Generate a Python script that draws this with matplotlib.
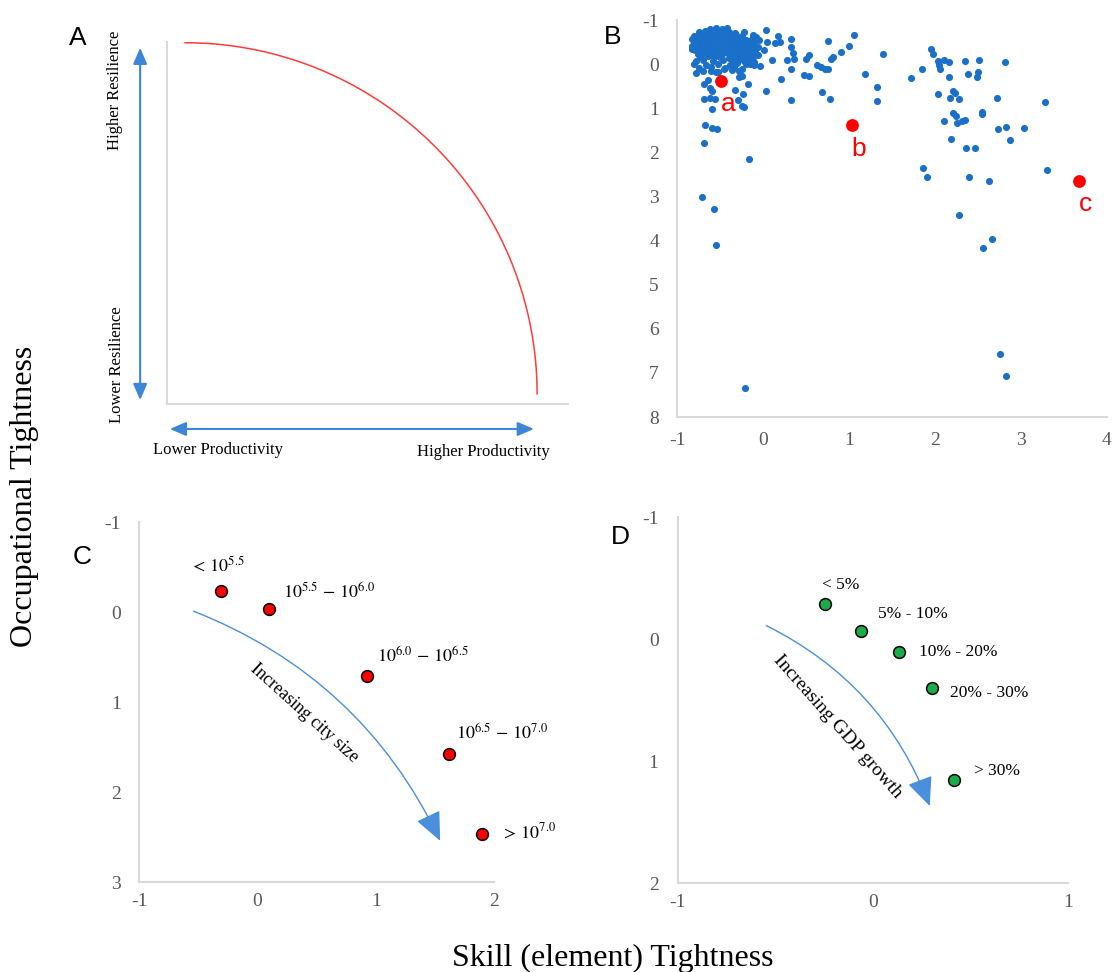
import matplotlib.pyplot as plt
import numpy as np
from matplotlib.patches import FancyArrowPatch

plt.rcParams['mathtext.fontset'] = 'stix'
plt.rcParams['axes.unicode_minus'] = False

SERIF = 'Liberation Serif'
SANS = 'Liberation Sans'
GRAY = '#595959'
SPINE = '#d9d9d9'
BLUE = '#1a6fc9'

# ---- panel B data (skill tightness, occupational tightness) ----
b_sparse = [
    (-0.21, 7.35), (2.75, 6.57), (2.83, 7.08), (2.56, 4.18), (2.66, 3.97),
    (2.28, 3.42), (2.40, 2.55), (2.63, 2.66), (1.86, 2.35), (1.91, 2.57),
    (3.30, 2.39), (3.28, 0.86), (3.04, 1.44), (2.87, 1.71), (2.83, 1.42),
    (2.73, 1.46), (2.72, 0.76), (2.81, -0.05), (2.51, -0.10), (2.35, -0.06),
    (2.50, 0.17), (2.49, 0.29), (2.38, 0.23), (2.55, 1.09), (2.55, 1.14),
    (2.47, 1.90), (2.36, 1.90), (2.19, 1.70), (2.10, 1.28), (2.21, 1.10),
    (2.24, 1.18), (2.26, 1.34), (2.31, 1.28), (2.35, 1.27), (2.28, 0.78),
    (2.21, 0.60), (2.23, 0.66), (2.17, 0.76), (2.03, 0.68), (2.16, 0.29),
    (2.16, -0.04), (2.10, -0.09), (2.03, -0.07), (2.05, 0.01), (2.06, 0.10),
    (1.98, -0.23), (1.95, -0.34), (1.85, 0.12), (1.72, 0.31), (1.39, -0.24),
    (1.32, 0.53), (1.32, 0.83), (1.19, 0.23), (1.06, -0.65), (1.00, -0.41),
    (0.91, -0.28), (0.81, -0.16), (0.79, -0.12), (0.76, -0.52), (0.75, 0.11),
    (0.72, 0.10), (0.67, 0.06), (0.63, 0.01), (0.69, 0.63), (0.78, 0.79),
    (0.53, 0.26), (0.48, 0.24), (0.53, -0.20), (0.50, -0.11), (0.36, -0.11),
    (0.35, -0.26), (0.33, -0.39), (0.33, -0.57), (0.32, 0.12), (0.28, -0.09),
    (0.32, 0.81), (0.21, 0.33), (0.18, -0.63), (0.20, -0.51), (0.14, -0.47),
    (0.11, -0.09), (0.04, 0.62), (0.03, -0.78), (-0.03, 0.05), (0.05, -0.51),
    (0.01, -0.32), (-0.17, 0.45), (-0.22, 0.98), (-0.24, 0.94), (-0.23, 0.68),
    (-0.29, 0.82), (-0.32, 0.59), (-0.16, 2.15), (-0.55, 4.11), (-0.57, 3.29),
    (-0.71, 3.02), (-0.69, 1.79), (-0.67, 1.37), (-0.59, 1.44), (-0.54, 1.46),
    (-0.59, 1.01), (-0.69, 0.79), (-0.62, 0.76), (-0.56, 0.80), (-0.62, 0.54),
    (-0.59, 0.60), (-0.69, 0.44), (-0.64, 0.35), (-0.78, 0.21), (-0.83, -0.35),
    (-0.60, 0.15), (-0.52, 0.18), (-0.45, 0.12), (-0.28, 0.30), (-0.25, 0.28),
    (-0.35, 0.08), (-0.15, 0.00), (-0.10, -0.05), (-0.06, -0.20),
]

b_cluster = [
    (-0.62, -0.80), (-0.55, -0.82), (-0.48, -0.79), (-0.42, -0.81),
    (-0.74, -0.72), (-0.68, -0.74), (-0.61, -0.71), (-0.54, -0.73),
    (-0.47, -0.70), (-0.40, -0.73), (-0.33, -0.71), (-0.22, -0.72),
    (-0.80, -0.64), (-0.73, -0.66), (-0.66, -0.63), (-0.59, -0.65),
    (-0.52, -0.62), (-0.45, -0.65), (-0.38, -0.63), (-0.31, -0.66),
    (-0.24, -0.64), (-0.12, -0.66), (-0.08, -0.62),
    (-0.83, -0.56), (-0.76, -0.58), (-0.69, -0.55), (-0.62, -0.57),
    (-0.55, -0.54), (-0.48, -0.57), (-0.41, -0.55), (-0.34, -0.58),
    (-0.27, -0.56), (-0.20, -0.54), (-0.13, -0.57), (-0.05, -0.55),
    (-0.80, -0.48), (-0.73, -0.50), (-0.66, -0.47), (-0.59, -0.49),
    (-0.52, -0.46), (-0.45, -0.49), (-0.38, -0.47), (-0.31, -0.50),
    (-0.24, -0.48), (-0.17, -0.46), (-0.10, -0.49),
    (-0.82, -0.40), (-0.75, -0.42), (-0.68, -0.39), (-0.61, -0.41),
    (-0.54, -0.38), (-0.47, -0.41), (-0.40, -0.39), (-0.33, -0.42),
    (-0.26, -0.40), (-0.19, -0.38), (-0.12, -0.41), (-0.06, -0.39),
    (-0.79, -0.32), (-0.72, -0.34), (-0.65, -0.31), (-0.58, -0.33),
    (-0.51, -0.30), (-0.44, -0.33), (-0.37, -0.31), (-0.30, -0.34),
    (-0.23, -0.32), (-0.16, -0.30), (-0.09, -0.33),
    (-0.76, -0.24), (-0.69, -0.26), (-0.62, -0.23), (-0.55, -0.25),
    (-0.48, -0.22), (-0.41, -0.25), (-0.34, -0.23), (-0.27, -0.26),
    (-0.20, -0.24), (-0.13, -0.22),
    (-0.73, -0.16), (-0.64, -0.18), (-0.57, -0.15), (-0.50, -0.17),
    (-0.40, -0.14), (-0.33, -0.17), (-0.26, -0.15), (-0.19, -0.18),
    (-0.12, -0.16),
    (-0.78, -0.08), (-0.70, -0.10), (-0.58, -0.07), (-0.46, -0.09),
    (-0.36, -0.06), (-0.29, -0.09), (-0.22, -0.07), (-0.15, -0.10),
    (-0.80, 0.00), (-0.66, 0.02), (-0.52, -0.01), (-0.38, 0.01),
    (-0.30, -0.02), (-0.20, 0.00), (-0.10, 0.02),
    (-0.74, 0.08), (-0.60, 0.06), (-0.44, 0.09), (-0.34, 0.07), (-0.25, 0.10),
    (-0.70, 0.15), (-0.55, 0.17), (-0.36, 0.14), (-0.28, 0.16),
]

b_highlight = [(-0.49, 0.38), (1.03, 1.38), (3.67, 2.64)]
b_highlight_labels = ['a', 'b', 'c']

# ---- panel C data (city size groups) ----
c_x = [-0.31, 0.10, 0.93, 1.62, 1.90]
c_y = [-0.23, -0.03, 0.71, 1.58, 2.47]
c_labels = [r'$<\,10^{5.5}$', r'$10^{5.5}\,-\,10^{6.0}$', r'$10^{6.0}\,-\,10^{6.5}$',
            r'$10^{6.5}\,-\,10^{7.0}$', r'$>\,10^{7.0}$']
c_offsets = [(-3, 26), (11, 17), (7, 19), (4, 20), (16, 2)]
c_align = ['center', 'left', 'left', 'left', 'left']

# ---- panel D data (GDP growth groups) ----
d_x = [-0.245, -0.061, 0.135, 0.305, 0.415]
d_y = [-0.285, -0.067, 0.105, 0.40, 1.155]
d_labels = ['< 5%', '5% - 10%', '10% - 20%', '20% - 30%', '> 30%']
d_offsets = [(-6, 19), (14, 17), (17, 0), (15, -5), (17, 9)]
d_align = ['left'] * 5

W, H = 1115, 972
fig = plt.figure(figsize=(W / 100, H / 100), dpi=100)


def px_axes(left, right, top, bottom):
    return fig.add_axes([left / W, 1 - bottom / H, (right - left) / W, (bottom - top) / H])


def style(ax):
    for s in ['top', 'right']:
        ax.spines[s].set_visible(False)
    for s in ['left', 'bottom']:
        ax.spines[s].set_color(SPINE)
        ax.spines[s].set_linewidth(1.5)
    ax.tick_params(length=0, labelcolor=GRAY, labelsize=14)
    for lab in ax.get_xticklabels() + ax.get_yticklabels():
        lab.set_family(SERIF)


# ---------------- A ----------------
axA = px_axes(167, 568, 42, 404)
axA.set_xlim(0, 1)
axA.set_ylim(0, 1)
axA.set_xticks([])
axA.set_yticks([])
for s in ['top', 'right']:
    axA.spines[s].set_visible(False)
for s in ['left', 'bottom']:
    axA.spines[s].set_color(SPINE)
    axA.spines[s].set_linewidth(1.5)
t = np.linspace(0, np.pi / 2, 200)
axA.plot(0.045 + 0.878 * np.cos(t), 0.028 + 0.97 * np.sin(t), color='#ff3b3b', lw=1.1)
arrow_kw = dict(arrowstyle='<|-|>,head_length=0.7,head_width=0.3', color='#3d85d6',
                lw=1.5, mutation_scale=14, transform=axA.transAxes, clip_on=False)
axA.add_patch(FancyArrowPatch((-0.067, 0.003), (-0.067, 0.992), **arrow_kw))
axA.add_patch(FancyArrowPatch((0.0, -0.069), (0.922, -0.069), **arrow_kw))
axA.text(-0.13, 0.867, 'Higher Resilience', rotation=90, ha='center', va='center',
         family=SERIF, fontsize=12, transform=axA.transAxes)
axA.text(-0.125, 0.108, 'Lower Resilience', rotation=90, ha='center', va='center',
         family=SERIF, fontsize=12, transform=axA.transAxes)
axA.text(0.127, -0.127, 'Lower Productivity', ha='center', va='center',
         family=SERIF, fontsize=12, transform=axA.transAxes)
axA.text(0.788, -0.133, 'Higher Productivity', ha='center', va='center',
         family=SERIF, fontsize=12, transform=axA.transAxes)

# ---------------- B ----------------
axB = px_axes(677, 1107, 20, 417)
pts = b_sparse + b_cluster
axB.scatter([p[0] for p in pts], [p[1] for p in pts], s=26, color=BLUE, linewidths=0, zorder=2)
axB.scatter([p[0] for p in b_highlight], [p[1] for p in b_highlight], s=85,
            color='#ff0000', linewidths=0, zorder=3)
for (x, y), lab in zip(b_highlight, b_highlight_labels):
    axB.annotate(lab, (x, y), xytext=(5, -17), textcoords='offset points', color='#ff0000',
                 fontsize=19, family=SANS, ha='center', va='center')
axB.set_xlim(-1, 4)
axB.set_ylim(8, -1)
axB.set_xticks(range(-1, 5))
axB.set_yticks(range(-1, 9))
style(axB)
axB.tick_params(axis='y', pad=13)
axB.tick_params(axis='x', pad=11)


def group_panel(ax, xs, ys, labels, offsets, aligns, color, fsize):
    ax.scatter(xs, ys, s=72, color=color, edgecolors='black', linewidths=1.1, zorder=3)
    for x, y, lab, (dx, dy), ha in zip(xs, ys, labels, offsets, aligns):
        ax.annotate(lab, (x, y), xytext=(dx * 0.72 + (0 if ha == 'center' else 2), dy * 0.72),
                    textcoords='offset points', ha=ha, va='center',
                    family=SERIF, fontsize=fsize)


# ---------------- C ----------------
axC = px_axes(139, 494, 522, 882)
group_panel(axC, c_x, c_y, c_labels, c_offsets, c_align, '#ff0000', 13)
axC.add_patch(FancyArrowPatch((-0.56, -0.02), (1.555, 2.57), connectionstyle='arc3,rad=-0.2',
                              arrowstyle='-|>,head_length=0.9,head_width=0.4',
                              color='#4a8fdc', lw=1.0, mutation_scale=20, zorder=2))
axC.text(0.395, 1.12, 'Increasing city size', rotation=-42, ha='center', va='center',
         family=SERIF, fontsize=13, rotation_mode='anchor')
axC.set_xlim(-1, 2)
axC.set_ylim(3, -1)
axC.set_xticks(range(-1, 3))
axC.set_yticks(range(-1, 4))
style(axC)
axC.tick_params(axis='y', pad=13)
axC.tick_params(axis='x', pad=8)

# ---------------- D ----------------
axD = px_axes(678, 1068, 517, 883)
group_panel(axD, d_x, d_y, d_labels, d_offsets, d_align, '#1aac4a', 12.5)
axD.add_patch(FancyArrowPatch((-0.56, -0.12), (0.296, 1.39), connectionstyle='arc3,rad=-0.2',
                              arrowstyle='-|>,head_length=0.9,head_width=0.4',
                              color='#4a8fdc', lw=1.0, mutation_scale=20, zorder=2))
axD.text(-0.18, 0.72, 'Increasing GDP growth', rotation=-48.5, ha='center', va='center',
         family=SERIF, fontsize=14, rotation_mode='anchor')
axD.set_xlim(-1, 1)
axD.set_ylim(2, -1)
axD.set_xticks(range(-1, 2))
axD.set_yticks(range(-1, 3))
style(axD)
axD.tick_params(axis='y', pad=14)
axD.tick_params(axis='x', pad=8)

# panel letters and shared labels
for lab, (x, y) in zip('ABCD', [(78, 38), (613, 37), (82, 557), (620, 537)]):
    fig.text(x / W, 1 - y / H, lab, fontsize=19, family=SANS, ha='center', va='center')
fig.text(25 / W, 1 - 496 / H, 'Occupational Tightness', rotation=90, ha='center',
         va='center', family=SERIF, fontsize=23)
fig.text(613 / W, 1 - 958 / H, 'Skill (element) Tightness', ha='center', va='center',
         family=SERIF, fontsize=23)

fig.savefig('out.png', dpi=100)
